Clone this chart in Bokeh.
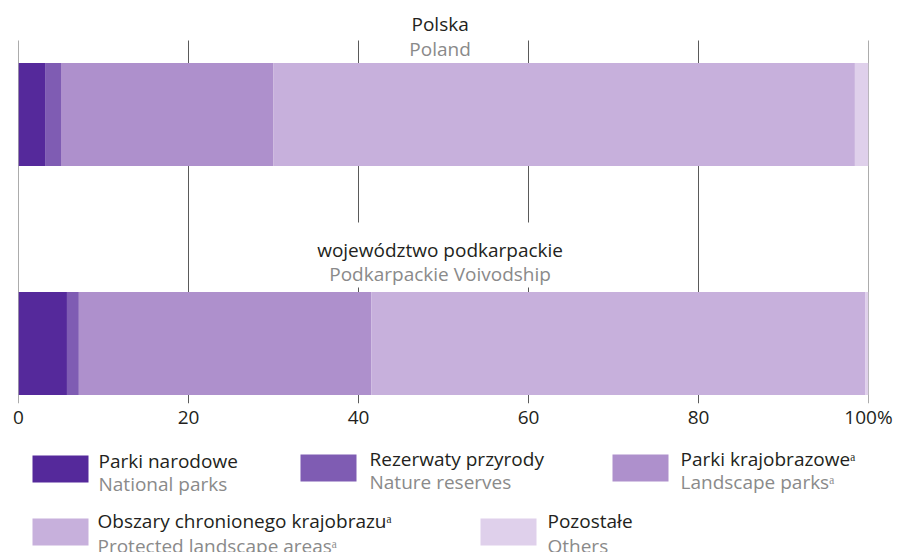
import numpy as np
from bokeh.plotting import figure
from bokeh.layouts import column
from bokeh.models import Range1d, FixedTicker
from bokeh.core.properties import value
from bokeh.embed import file_html
from bokeh.resources import INLINE

# ---- data ----
regions_pl = ["Polska", "województwo podkarpackie"]
regions_en = ["Poland", "Podkarpackie Voivodship"]
national_parks = [3.2, 5.7]
nature_reserves = [1.8, 1.4]
landscape_parks = [25.0, 34.4]
protected_landscape = [68.4, 58.1]
others = [1.6, 0.4]
tick_values = [0, 20, 40, 60, 80, 100]
tick_labels = ["0", "20", "40", "60", "80", "100%"]

series_pl = ["Parki narodowe", "Rezerwaty przyrody", "Parki krajobrazowe\u1d43",
             "Obszary chronionego krajobrazu\u1d43", "Pozostałe"]
series_en = ["National parks", "Nature reserves", "Landscape parks\u1d43",
             "Protected landscape areas\u1d43", "Others"]
colors = ["#55299b", "#7f5cb3", "#ae90cc", "#c7b0dc", "#dfd0eb"]

FONT = value("Open Sans")
DARK = "#231f20"
GREY = "#8a8a8a"
LINE = "#5a5a5a"
FS = "19px"

# ---- main chart (y in page pixel coordinates, top-down) ----
p = figure(width=898, height=438, output_backend="svg", toolbar_location=None,
           x_range=Range1d(0, 100), y_range=Range1d(403, 0),
           min_border_left=18, min_border_right=30, min_border_top=0,
           min_border_bottom=35, y_axis_location=None)
p.outline_line_color = None
p.grid.visible = False
p.background_fill_color = "white"

bar_y = [114, 343]
bar_h = 103

# grid lines drawn at tick positions
p.segment(x0=tick_values, x1=tick_values, y0=[40] * len(tick_values),
          y1=[403] * len(tick_values), line_color=LINE, line_width=1)

# white mask behind second label
p.quad(left=[33.0], right=[66.5], top=[222], bottom=[287], fill_color="white",
       line_color=None)

series = [national_parks, nature_reserves, landscape_parks, protected_landscape, others]
arr = np.array(series, dtype=float)
cum = np.cumsum(arr, axis=0)
lefts = cum - arr
for i in range(len(series)):
    p.hbar(y=bar_y, left=lefts[i], right=cum[i], height=bar_h,
           fill_color=colors[i], line_color=None)

label_y1 = [23, 249]
label_y2 = [48, 273]
p.text(x=[49.6, 49.6], y=label_y1, text=regions_pl, text_font=FONT,
       text_font_size=FS, text_color=DARK, text_align="center",
       text_baseline="middle")
p.text(x=[49.6, 49.6], y=label_y2, text=regions_en, text_font=FONT,
       text_font_size=FS, text_color=GREY, text_align="center",
       text_baseline="middle")

ax = p.xaxis[0]
ax.ticker = FixedTicker(ticks=tick_values)
ax.major_label_overrides = {v: l for v, l in zip(tick_values, tick_labels)}
ax.axis_line_color = None
ax.major_tick_line_color = None
ax.minor_tick_line_color = None
ax.major_tick_out = 0
ax.major_tick_in = 0
ax.major_label_standoff = 0
ax.major_label_text_font = "Open Sans"
ax.major_label_text_font_size = FS
ax.major_label_text_color = DARK

# ---- legend (page pixel coordinates; same frame as main chart) ----
lg = figure(width=898, height=114, output_backend="svg", toolbar_location=None,
            x_range=Range1d(18, 868), y_range=Range1d(552, 438),
            min_border_left=18, min_border_right=30, min_border_top=0,
            min_border_bottom=0, x_axis_location=None, y_axis_location=None)
lg.outline_line_color = None
lg.grid.visible = False

sq_left = [32, 300, 612, 32, 480]
sq_top = [455, 454, 454, 518, 518]
txt_x = [98, 369, 680, 97, 547]
mid1 = [460, 458, 458, 520, 520]
mid2 = [483, 481, 481, 545, 545]

lg.quad(left=sq_left, right=[v + 56 for v in sq_left], top=sq_top,
        bottom=[v + 27 for v in sq_top], fill_color=colors, line_color=None)
lg.text(x=txt_x, y=mid1, text=series_pl, text_font=FONT, text_font_size=FS,
        text_color=DARK, text_baseline="middle")
lg.text(x=txt_x, y=mid2, text=series_en, text_font=FONT, text_font_size=FS,
        text_color=GREY, text_baseline="middle")

layout = column(p, lg, spacing=0)
open("out.html", "w").write(file_html(layout, INLINE))
